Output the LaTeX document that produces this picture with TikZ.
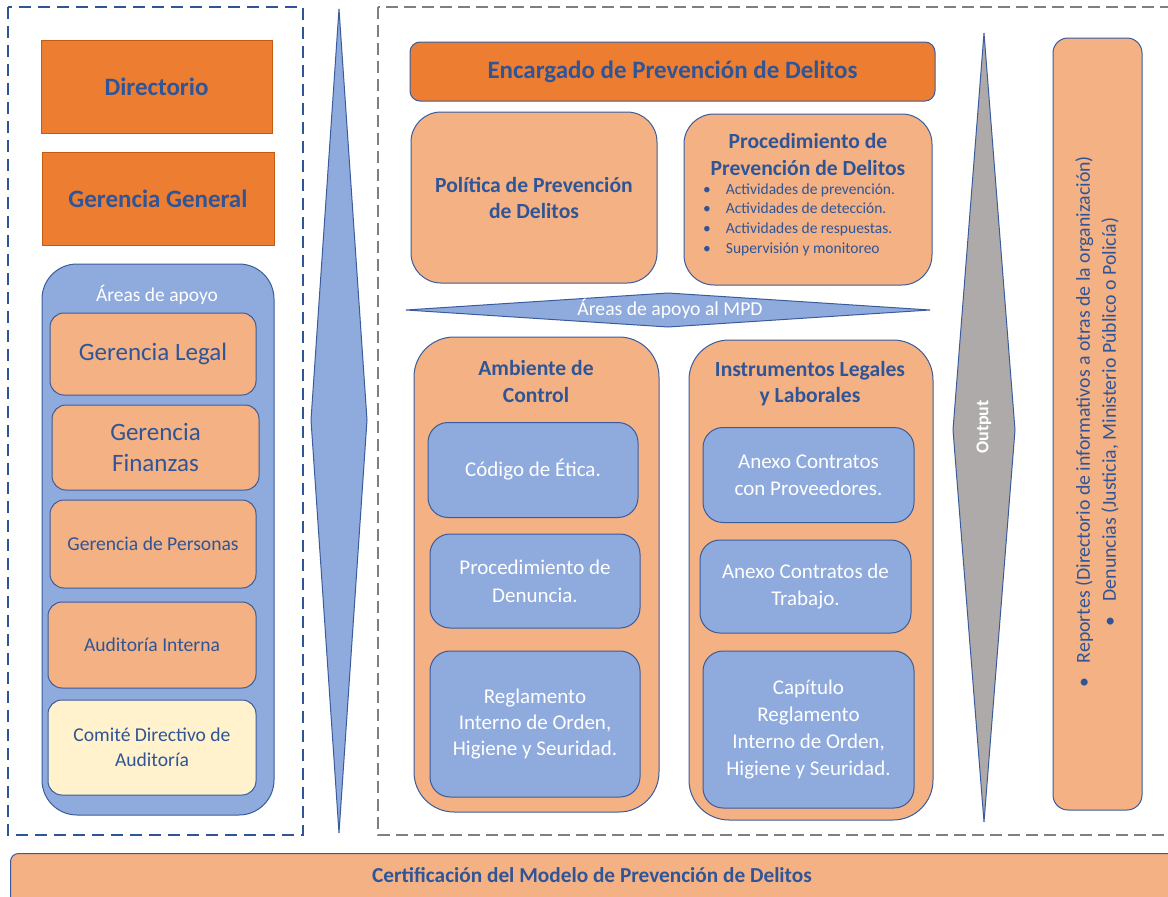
\documentclass[tikz,border=0pt]{standalone}
\usepackage{fontspec}
\setmainfont{Carlito}
\usetikzlibrary{positioning}
\definecolor{orgA}{HTML}{ED7D31}
\definecolor{orgD}{HTML}{C55A11}
\definecolor{orgB}{HTML}{F4B183}
\definecolor{bluA}{HTML}{8FAADC}
\definecolor{bluL}{HTML}{3A5C9C}
\definecolor{txtB}{HTML}{2F5597}
\definecolor{yelL}{HTML}{FFF2CC}
\definecolor{grayA}{HTML}{AEAAAA}
\definecolor{grayD}{HTML}{7F7F7F}
\newcommand{\fs}[1]{\fontsize{#1}{#1}\selectfont}
\tikzset{
  base/.style={draw=bluL, line width=1pt, inner sep=0pt, align=center, text=txtB},
  hdbox/.style={base, draw=orgD, fill=orgA, font=\bfseries\fs{25}},
  encbox/.style={base, fill=orgA, rounded corners=10pt, font=\bfseries\fs{25}},
  lorg/.style={base, fill=orgB, rounded corners=14pt},
  bigorg/.style={base, fill=orgB},
  bluebox/.style={base, fill=bluA, rounded corners=20pt, text=white, font=\fs{21}},
  lbl/.style={inner sep=0pt, align=center, text=txtB},
  wlbl/.style={inner sep=0pt, align=center, text=white},
  blueframe/.style={draw=txtB, line width=2.4pt, dash pattern=on 12pt off 7pt},
  grayframe/.style={draw=grayD, line width=2.4pt, dash pattern=on 12pt off 6pt},
  spike/.style={draw=bluL, line width=1pt}
}
\begin{document}
\begin{tikzpicture}[x=1pt,y=-1pt]
\useasboundingbox (0,0) rectangle (1168,897);
\clip (0,0) rectangle (1168,897);

% frames
\draw[blueframe] (8,7) rectangle (303,835);
\draw[grayframe] (378,7) rectangle (1180,835);

% left blue spike
\coordinate (lt) at (339,9);
\coordinate (lr) at (367,420);
\coordinate (lb) at (339,833);
\coordinate (ll) at (311,420);
\draw[spike, fill=bluA] (lt) -- (lr) -- (lb) -- (ll) -- cycle;

% left column
\node[hdbox, minimum width=231, minimum height=93] (dir) at (156.5,86.5) {Directorio};
\node[hdbox, minimum width=232, minimum height=93] (gg) at (158,198.5) {Gerencia General};
\node[base, fill=bluA, rounded corners=35pt, minimum width=232, minimum height=551] (apoyo) at (158,539.5) {};
\node[wlbl, font=\fs{19.5}] (apoyot) at (157,295) {Áreas de apoyo};
\node[lorg, minimum width=206, minimum height=82, font=\fs{25}] (gl) at (153,354) {Gerencia Legal};
\node[lorg, minimum width=207, minimum height=85, font=\fs{25}] (gf) at (155.5,447.5) {Gerencia\\[6pt]Finanzas};
\node[lorg, minimum width=206, minimum height=88, font=\fs{19.6}] (gp) at (153,544) {Gerencia de Personas};
\node[lorg, minimum width=208, minimum height=86, font=\fs{19.6}] (ai) at (152,645) {Auditoría Interna};
\node[lorg, fill=yelL, minimum width=208, minimum height=95, font=\fs{19.6}] (cd) at (152,747.5) {Comité Directivo de\\[5.4pt]Auditoría};

% middle top
\node[encbox, minimum width=525, minimum height=59] (enc) at (672.5,71.5) {Encargado de Prevención de Delitos};
\node[bigorg, rounded corners=30pt, minimum width=246, minimum height=171, font=\bfseries\fs{21.6}] (pol) at (534,197.5) {Política de Prevención\\[4.4pt]de Delitos};
\node[bigorg, rounded corners=30pt, minimum width=248, minimum height=171] (proc) at (808,199.5) {};
\node[lbl, font=\bfseries\fs{21.6}] (proct) at (808,154.5) {Procedimiento de\\[5.4pt]Prevención de Delitos};
\node[lbl, anchor=west, align=left, font=\fs{15.5}] (procl) at (703,219.5) {%
\textbullet\hspace{15pt}Actividades de prevención.\\[4.2pt]
\textbullet\hspace{15pt}Actividades de detección.\\[4.2pt]
\textbullet\hspace{15pt}Actividades de respuestas.\\[4.2pt]
\textbullet\hspace{15pt}Supervisión y monitoreo};

% MPD spike
\coordinate (ml) at (406,310);
\coordinate (mt) at (668,293);
\coordinate (mr) at (930,310);
\coordinate (mb) at (668,327);
\draw[spike, fill=bluA] (ml) -- (mt) -- (mr) -- (mb) -- cycle;
\node[wlbl, font=\fs{19.7}] (mpd) at (670,309) {Áreas de apoyo al MPD};

% Ambiente de control
\node[bigorg, rounded corners=40pt, minimum width=245, minimum height=475] (amb) at (536.5,574.5) {};
\node[lbl, font=\bfseries\fs{21.6}] (ambt) at (536,381) {Ambiente de\\[5.4pt]Control};
\node[bluebox, minimum width=210, minimum height=95] (etica) at (533,470) {Código de Ética.};
\node[bluebox, minimum width=210, minimum height=94] (den) at (535,581) {Procedimiento de\\[7pt]Denuncia.};
\node[bluebox, minimum width=210, minimum height=146] (reg) at (535,724) {Reglamento\\[5pt]Interno de Orden,\\[5pt]Higiene y Seuridad.};

% Instrumentos
\node[bigorg, rounded corners=40pt, minimum width=244, minimum height=480] (ins) at (811,580) {};
\node[lbl, font=\bfseries\fs{21.6}] (inst) at (810,384) {Instrumentos Legales\\[4.4pt]y Laborales};
\node[bluebox, minimum width=211, minimum height=95] (prov) at (808.5,475) {Anexo Contratos\\[6pt]con Proveedores.};
\node[bluebox, minimum width=211, minimum height=93] (trab) at (805.5,586.5) {Anexo Contratos de\\[6pt]Trabajo.};
\node[bluebox, minimum width=211, minimum height=157] (cap) at (808.5,729.5) {Capítulo\\[5.7pt]Reglamento\\[5.7pt]Interno de Orden,\\[5.7pt]Higiene y Seuridad.};

% Output spike
\coordinate (ot) at (984,33);
\coordinate (or) at (1015,430);
\coordinate (ob) at (984,822);
\coordinate (ol) at (953,430);
\draw[spike, fill=grayA] (ot) -- (or) -- (ob) -- (ol) -- cycle;
\node[wlbl, rotate=90, font=\bfseries\fs{18}] (outp) at (984,427) {Output};

% Reports box
\node[bigorg, rounded corners=15pt, minimum width=89, minimum height=772] (rep) at (1097.5,424) {};
\node[lbl, rotate=90, font=\fs{19.8}] (rept) at (1097,422) {%
\textbullet\hspace{15pt}Reportes (Directorio de informativos a otras de la organización)\\[6pt]
\textbullet\hspace{15pt}Denuncias (Justicia, Ministerio Público o Policía)};

% bottom bar
\node[bigorg, rounded corners=8pt, anchor=north west, minimum width=1180, minimum height=60] (cert) at (10,853) {};
\node[lbl, font=\bfseries\fs{21.3}] (certt) at (592,875) {Certificación del Modelo de Prevención de Delitos};
\end{tikzpicture}
\end{document}
